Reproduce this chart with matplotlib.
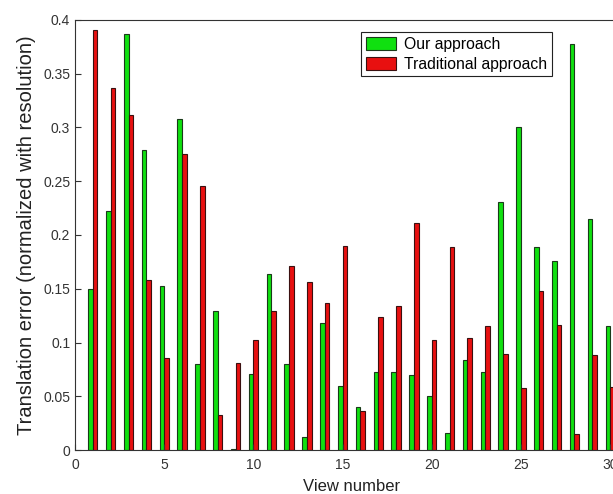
import numpy as np
import matplotlib
matplotlib.use("Agg")
import matplotlib.pyplot as plt

plt.rcParams['font.family'] = ['Liberation Sans', 'DejaVu Sans']

# view numbers and errors
views = np.arange(1, 31)
ours = [0.150, 0.222, 0.387, 0.279, 0.153, 0.308, 0.080, 0.129, 0.001, 0.071,
        0.164, 0.080, 0.012, 0.118, 0.060, 0.040, 0.073, 0.073, 0.070, 0.050,
        0.016, 0.084, 0.073, 0.231, 0.300, 0.189, 0.176, 0.378, 0.215, 0.115]
traditional = [0.391, 0.337, 0.312, 0.158, 0.086, 0.275, 0.246, 0.033, 0.081, 0.102,
               0.129, 0.171, 0.156, 0.137, 0.190, 0.036, 0.124, 0.134, 0.211, 0.102,
               0.189, 0.104, 0.115, 0.089, 0.058, 0.148, 0.116, 0.015, 0.088, 0.059]
series_names = ['Our approach', 'Traditional approach']

fig = plt.figure(figsize=(6.13, 4.94), dpi=100)
# axes run past the right edge of the picture, as in the cropped original
ax = fig.add_axes([75 / 613, 44 / 494, 553 / 613, 430 / 494])

w = 0.26
ax.bar(views - w / 2, ours, width=w, color='#10e010', edgecolor='#1a3a1a',
       linewidth=0.8, label=series_names[0])
ax.bar(views + w / 2, traditional, width=w, color='#e81010', edgecolor='#3a1010',
       linewidth=0.8, label=series_names[1])

ax.set_xlim(0, 31)
ax.set_ylim(0, 0.4)
ax.set_xticks(np.arange(0, 31, 5))
ax.set_yticks(np.arange(0, 0.401, 0.05))
ax.set_yticklabels(['0', '0.05', '0.1', '0.15', '0.2', '0.25', '0.3', '0.35', '0.4'])
ax.tick_params(direction='in', labelsize=10, colors='#333333', length=4)
ax.tick_params(axis='x', pad=6)
for s in ax.spines.values():
    s.set_color('#333333')

ax.set_xlabel('View number', fontsize=12, color='#222222', labelpad=5)
ax.set_ylabel('Translation error (normalized with resolution)', fontsize=14.5,
              color='#222222', labelpad=5)

leg = ax.legend(loc='upper right', bbox_to_anchor=(0.863, 0.972), fontsize=11.3,
                fancybox=False, framealpha=1, edgecolor='#222222',
                borderpad=0.3, handlelength=1.9, handleheight=0.95,
                labelspacing=0.3, handletextpad=0.55, borderaxespad=0)
leg.get_frame().set_linewidth(0.8)

plt.savefig('out.png', dpi=100)
